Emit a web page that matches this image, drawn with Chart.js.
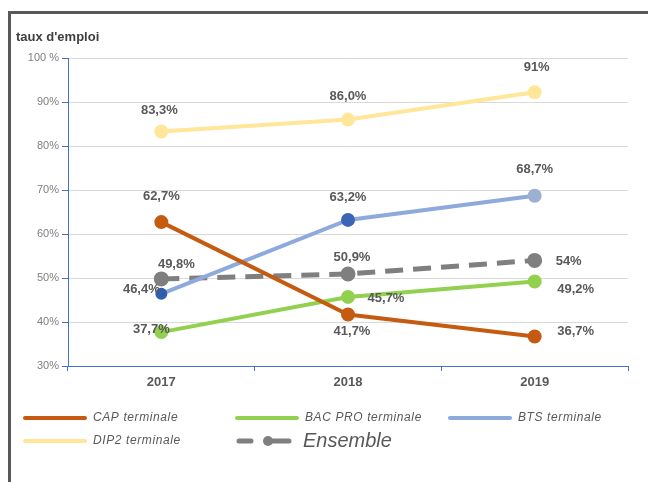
<!DOCTYPE html>
<html>
<head>
<meta charset="utf-8">
<script src="https://cdn.jsdelivr.net/npm/chart.js@4"></script>
<style>
  html, body { margin: 0; padding: 0; background: #fff; }
  canvas { display: block; }
</style>
</head>
<body>
<canvas id="graficoEmploi" width="648" height="482"></canvas>
<script>
// donnees
var annees = ['2017', '2018', '2019'];
var capTerminale = [62.7, 41.7, 36.7];
var bacProTerminale = [37.7, 45.7, 49.2];
var btsTerminale = [46.4, 63.2, 68.7];
var dip2Terminale = [83.3, 86.0, 92.2];
var ensemble = [49.8, 50.9, 54.0];

var capEtiquettes = ['62,7%', '41,7%', '36,7%'];
var bacProEtiquettes = ['37,7%', '45,7%', '49,2%'];
var btsEtiquettes = ['46,4%', '63,2%', '68,7%'];
var dip2Etiquettes = ['83,3%', '86,0%', '91%'];
var ensembleEtiquettes = ['49,8%', '50,9%', '54%'];

var graduations = [30, 40, 50, 60, 70, 80, 90, 100];
var graduationsTexte = ['30%', '40%', '50%', '60%', '70%', '80%', '90%', '100 %'];

var titreAxe = "taux d'emploi";

// decalage des etiquettes (dx, dy) par point
var decalages = {
  cap: [[0, -26], [4, 17], [41, -5]],
  bac: [[-10, -3], [38, 2], [41, 8]],
  bts: [[-20, -4], [0, -22], [0, -26]],
  dip2: [[-2, -21], [0, -23], [2, -25]],
  ens: [[15, -14], [4, -17], [34, 1]]
};

var etiquettesPlugin = {
  id: 'etiquettes',
  afterDatasetsDraw: function (chart) {
    var ctx = chart.ctx;
    ctx.save();
    ctx.font = 'bold 13px "Liberation Sans", Arial, sans-serif';
    ctx.fillStyle = '#595959';
    ctx.textAlign = 'center';
    ctx.textBaseline = 'middle';
    chart.data.datasets.forEach(function (ds, i) {
      var meta = chart.getDatasetMeta(i);
      meta.data.forEach(function (pt, j) {
        var d = ds.decalage[j];
        ctx.fillText(ds.etiquettes[j], pt.x + d[0], pt.y + d[1]);
      });
    });
    ctx.restore();
  }
};

var cadrePlugin = {
  id: 'cadre',
  beforeDraw: function (chart) {
    var ctx = chart.ctx;
    ctx.save();
    ctx.fillStyle = '#fff';
    ctx.fillRect(0, 0, chart.width, chart.height);
    ctx.strokeStyle = '#595959';
    ctx.lineWidth = 3;
    ctx.beginPath();
    ctx.moveTo(9.5, chart.height);
    ctx.lineTo(9.5, 12.5);
    ctx.lineTo(chart.width, 12.5);
    ctx.stroke();
    ctx.fillStyle = '#404040';
    ctx.font = 'bold 13px "Liberation Sans", Arial, sans-serif';
    ctx.textBaseline = 'middle';
    ctx.fillText(titreAxe, 16, 37);
    ctx.restore();
  },
  afterDraw: function (chart) {
    // legende
    var ctx = chart.ctx;
    var items = [
      { x: 25, y: 418, ds: 0 },
      { x: 237, y: 418, ds: 1 },
      { x: 450, y: 418, ds: 2 },
      { x: 25, y: 441, ds: 3 }
    ];
    ctx.save();
    items.forEach(function (it) {
      var ds = chart.data.datasets[it.ds];
      ctx.strokeStyle = ds.borderColor;
      ctx.lineWidth = 4;
      ctx.lineCap = 'round';
      ctx.beginPath();
      ctx.moveTo(it.x, it.y);
      ctx.lineTo(it.x + 60, it.y);
      ctx.stroke();
      ctx.fillStyle = '#595959';
      ctx.font = 'italic 12px "Liberation Sans", Arial, sans-serif';
      ctx.letterSpacing = '0.6px';
      ctx.textBaseline = 'middle';
      ctx.fillText(ds.label, it.x + 68, it.y);
    });
    ctx.letterSpacing = '0px';
    // Ensemble
    var e = chart.data.datasets[4];
    ctx.strokeStyle = e.borderColor;
    ctx.lineWidth = 5;
    ctx.lineCap = 'round';
    ctx.beginPath();
    ctx.moveTo(239, 441); ctx.lineTo(251, 441);
    ctx.moveTo(268, 441); ctx.lineTo(289, 441);
    ctx.stroke();
    ctx.fillStyle = e.borderColor;
    ctx.beginPath();
    ctx.arc(268, 441, 5, 0, Math.PI * 2);
    ctx.fill();
    ctx.fillStyle = '#595959';
    ctx.font = 'italic 20px "Liberation Sans", Arial, sans-serif';
    ctx.fillText(e.label, 303, 441);
    ctx.restore();
  }
};

function serie(label, data, couleur, etiquettes, decalage, extra) {
  var s = {
    label: label,
    data: data,
    borderColor: couleur,
    backgroundColor: couleur,
    pointBackgroundColor: couleur,
    pointBorderColor: couleur,
    borderWidth: 4,
    pointRadius: 5,
    pointHoverRadius: 5,
    tension: 0,
    etiquettes: etiquettes,
    decalage: decalage
  };
  for (var k in extra) s[k] = extra[k];
  return s;
}

var ctx = document.getElementById('graficoEmploi').getContext('2d');
var chart = new Chart(ctx, {
  type: 'line',
  data: {
    labels: annees,
    datasets: [
      serie('CAP terminale', capTerminale, '#C55A11', capEtiquettes, decalages.cap, {}),
      serie('BAC PRO terminale', bacProTerminale, '#92D050', bacProEtiquettes, decalages.bac, {}),
      serie('BTS terminale', btsTerminale, '#8EA9DB', btsEtiquettes, decalages.bts, {
        pointBackgroundColor: ['#2F5EB0', '#3A66B5', '#9DB0D2'],
        pointBorderColor: ['#2F5EB0', '#3A66B5', '#9DB0D2'],
        pointRadius: [4, 5, 5]
      }),
      serie('DIP2 terminale', dip2Terminale, '#FFE699', dip2Etiquettes, decalages.dip2, {}),
      serie('Ensemble', ensemble, '#7F7F7F', ensembleEtiquettes, decalages.ens, {
        borderDash: [18, 10],
        borderWidth: 5,
        pointRadius: 5
      })
    ]
  },
  options: {
    responsive: false,
    animation: false,
    events: [],
    layout: { padding: { left: 10, right: 20, top: 58, bottom: 86 } },
    plugins: {
      legend: { display: false },
      tooltip: { enabled: false }
    },
    scales: {
      x: {
        offset: true,
        afterFit: function (s) { s.height = 30; },
        border: { color: '#4472C4', width: 1 },
        grid: { offset: true, drawOnChartArea: false, drawTicks: true, tickLength: 5, tickColor: '#4472C4' },
        ticks: {
          color: '#595959',
          padding: 4,
          font: { family: '"Liberation Sans", Arial, sans-serif', size: 13, weight: 'bold' }
        }
      },
      y: {
        min: 30,
        max: 100,
        afterFit: function (s) { s.width = 58; },
        afterBuildTicks: function (s) {
          s.ticks = graduations.map(function (v) { return { value: v }; });
        },
        border: { color: '#4472C4', width: 1 },
        grid: { color: '#D9D9D9', lineWidth: 1, drawTicks: true, tickLength: 6, tickColor: '#4472C4' },
        ticks: {
          color: '#7F7F7F',
          padding: 3,
          font: { family: '"Liberation Sans Narrow", "Liberation Sans", Arial, sans-serif', size: 11 },
          callback: function (v) {
            var i = graduations.indexOf(v);
            return i >= 0 ? graduationsTexte[i] : '';
          }
        }
      }
    }
  },
  plugins: [cadrePlugin, etiquettesPlugin]
});
</script>
</body>
</html>
